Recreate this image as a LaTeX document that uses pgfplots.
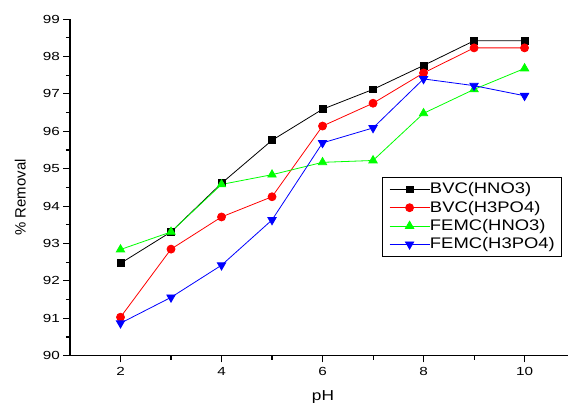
\documentclass[border=0pt]{standalone}
\usepackage{fontspec}
\setmainfont{Liberation Sans}[FakeStretch=1.2]
\newfontfamily\tickfont{Liberation Sans}[FakeStretch=1.3]
\newfontfamily\ylabfont{Liberation Sans}
\usepackage{pgfplots}
\pgfplotsset{compat=1.18}
\begin{document}
\begin{tikzpicture}
\path[use as bounding box] (-52.5pt,-36.2pt) rectangle (373.5pt,266.8pt);
\begin{axis}[
  at={(0pt,0pt)}, anchor=south west,
  scale only axis, width=373.5pt, height=252.5pt,
  xmin=1, xmax=10.86, ymin=90, ymax=99,
  axis x line*=bottom, axis y line*=left,
  axis line style={line width=0.9pt, -},
  xtick={2,4,6,8,10}, minor xtick={3,5,7,9},
  ytick={90,91,...,99}, minor ytick={90.5,91.5,...,98.5},
  tick align=outside, major tick length=5pt, minor tick length=3pt,
  every tick/.style={line width=0.8pt, black},
  /pgf/number format/assume math mode=true,
  ticklabel style={font=\tickfont\fontsize{8.8}{10}\selectfont},
  yticklabel style={xshift=1pt},
  xlabel={pH}, ylabel={\ylabfont\% Removal},
  xlabel style={font=\fontsize{10.8}{12}\selectfont, at={(axis description cs:0.508,-0.122)}, anchor=center},
  ylabel style={font=\fontsize{11.2}{12}\selectfont, at={(axis description cs:-0.1,0.47)}, anchor=center},
  legend style={at={(axis description cs:0.6265,0.531)}, anchor=north west,
    draw=black, line width=0.8pt, font=\fontsize{11.5}{13.8}\selectfont,
    inner xsep=5pt, inner ysep=4pt, row sep=3.9pt,
    nodes={inner xsep=0pt, inner ysep=0pt}},
  legend cell align=left,
  legend image code/.code={\draw[mark repeat=2,mark phase=2,#1] plot coordinates {(0pt,0pt) (15pt,0pt) (30pt,0pt)};},
  clip=false,
]
\addplot[black, line width=0.6pt, mark=square*, mark size=2.6pt, mark options={solid}] coordinates {
(2,92.47) (3,93.31) (4,94.61) (5,95.76) (6,96.59) (7,97.12) (8,97.76) (9,98.42) (10,98.42)};
\addlegendentry{BVC(HNO3)}
\addplot[red, line width=0.6pt, mark=*, mark size=3pt] coordinates {
(2,91.03) (3,92.85) (4,93.71) (5,94.25) (6,96.14) (7,96.75) (8,97.56) (9,98.23) (10,98.23)};
\addlegendentry{BVC(H3PO4)}
\addplot[green, line width=0.6pt, mark=triangle*, mark size=3.6pt] coordinates {
(2,92.84) (3,93.31) (4,94.58) (5,94.84) (6,95.17) (7,95.22) (8,96.48) (9,97.12) (10,97.68)};
\addlegendentry{FEMC(HNO3)}
\addplot[blue, line width=0.6pt, mark=triangle*, mark size=3.6pt, mark options={rotate=180}] coordinates {
(2,90.87) (3,91.56) (4,92.42) (5,93.63) (6,95.69) (7,96.09) (8,97.40) (9,97.22) (10,96.95)};
\addlegendentry{FEMC(H3PO4)}
\end{axis}
\end{tikzpicture}
\end{document}
